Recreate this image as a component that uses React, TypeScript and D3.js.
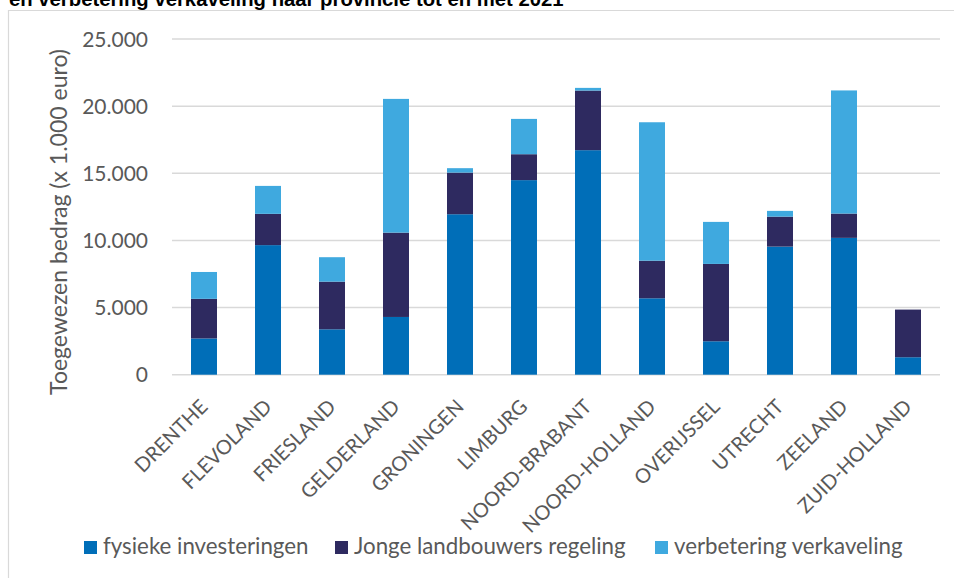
import React from "react";
import * as d3 from "d3";

const provinces = [
  "DRENTHE", "FLEVOLAND", "FRIESLAND", "GELDERLAND", "GRONINGEN", "LIMBURG",
  "NOORD-BRABANT", "NOORD-HOLLAND", "OVERIJSSEL", "UTRECHT", "ZEELAND", "ZUID-HOLLAND",
];
const fysiekeInvesteringen = [2700, 9650, 3380, 4300, 11950, 14490, 16720, 5690, 2490, 9540, 10190, 1300];
const jongeLandbouwers = [2950, 2330, 3550, 6280, 3100, 1930, 4440, 2800, 5760, 2230, 1810, 3550];
const verbeteringVerkaveling = [2000, 2080, 1820, 9960, 330, 2630, 200, 10310, 3130, 430, 9170, 0];
const seriesNames = ["fysieke investeringen", "Jonge landbouwers regeling", "verbetering verkaveling"];
const seriesColors = ["#006EB8", "#2E2A60", "#3FA9DF"];
const yTicks = [0, 5000, 10000, 15000, 20000, 25000];
const titleText = "en verbetering verkaveling naar provincie tot en met 2021";
const yTitle = "Toegewezen bedrag (x 1.000 euro)";

const W = 954;
const H = 578;
const FONT = "Lato, 'Open Sans', sans-serif";
const TXT = "#595959";

export default function App() {
  const x = d3.scaleBand<string>().domain(provinces).range([172, 940]).paddingInner(0.594).paddingOuter(0.297);
  const y = d3.scaleLinear().domain([0, 25000]).range([374.7, 39]);
  const rows = provinces.map((p, i) => ({
    p,
    s0: fysiekeInvesteringen[i],
    s1: jongeLandbouwers[i],
    s2: verbeteringVerkaveling[i],
  }));
  const stack = d3.stack<any>().keys(["s0", "s1", "s2"])(rows);
  const fmt = (v: number) => (v === 0 ? "0" : d3.format(",")(v).replace(/,/g, "."));
  const legendX = [84, 335, 655];

  return (
    <svg width={W} height={H} style={{ position: "absolute", left: 0, top: 0, background: "#fff" }}>
      <rect x={0} y={0} width={W} height={H} fill="#fff" />
      <text x={9} y={5.5} fontFamily="'Liberation Sans', Arial, sans-serif" fontWeight="bold" fontSize={20.3} fill="#000">
        {titleText}
      </text>
      <line x1={8} x2={W} y1={10.5} y2={10.5} stroke="#d9d9d9" strokeWidth={1.2} />
      <line x1={8.5} x2={8.5} y1={10} y2={H} stroke="#d9d9d9" strokeWidth={1.2} />
      {yTicks.map((t) => (
        <g key={t}>
          <line x1={172} x2={940} y1={y(t)} y2={y(t)} stroke="#d9d9d9" strokeWidth={1.5} />
          <text x={148} y={y(t)} dy="0.36em" textAnchor="end" fontFamily={FONT} fontSize={21} fill={TXT}>
            {fmt(t)}
          </text>
        </g>
      ))}
      {stack.map((layer, si) => (
        <g key={si} fill={seriesColors[si]}>
          {layer.map((d: any, i: number) => {
            const h = y(d[0]) - y(d[1]);
            if (h <= 0) return null;
            return <rect key={i} x={x(provinces[i])} y={y(d[1])} width={x.bandwidth()} height={h} />;
          })}
        </g>
      ))}
      {provinces.map((p) => {
        const cx = (x(p) as number) + x.bandwidth() / 2;
        return (
          <text
            key={p}
            transform={`translate(${cx},403) rotate(-45)`}
            dy="0.35em"
            textAnchor="end"
            fontFamily={FONT}
            fontSize={20}
            fill={TXT}
          >
            {p}
          </text>
        );
      })}
      <text transform="translate(67,222) rotate(-90)" textAnchor="middle" fontFamily={FONT} fontSize={23} fill={TXT}>
        {yTitle}
      </text>
      {seriesNames.map((n, i) => (
        <g key={n}>
          <rect x={legendX[i]} y={541} width={13} height={13} fill={seriesColors[i]} />
          <text x={legendX[i] + 19} y={553.5} fontFamily={FONT} fontSize={22.3} fill={TXT}>
            {n}
          </text>
        </g>
      ))}
    </svg>
  );
}
